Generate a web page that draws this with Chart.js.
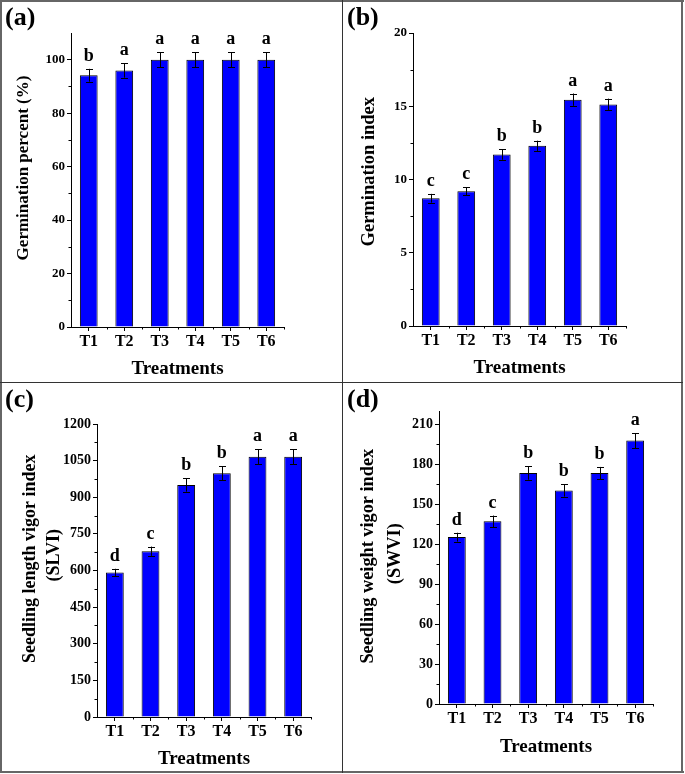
<!DOCTYPE html>
<html>
<head>
<meta charset="utf-8">
<script src="https://cdn.jsdelivr.net/npm/chart.js@4.4.1/dist/chart.umd.min.js"></script>
<style>
  html, body { margin: 0; padding: 0; background: #fff; }
  #page { position: relative; width: 685px; height: 774px; overflow: hidden; }
  .panel { position: absolute; }
  .panel canvas { position: absolute; left: 0; top: 0; }
  .tag { position: absolute; left: 5px; top: 2px; font: bold 26px "Liberation Serif", "Times New Roman", serif; color: #000; }
  .line { position: absolute; background: #666; }
</style>
</head>
<body>
<div id="page">
  <div class="panel" style="left:0;top:0;width:342px;height:382px"><canvas id="chart-a" width="342" height="382"></canvas><div class="tag">(a)</div></div>
  <div class="panel" style="left:342px;top:0;width:343px;height:382px"><canvas id="chart-b" width="343" height="382"></canvas><div class="tag">(b)</div></div>
  <div class="panel" style="left:0;top:382px;width:342px;height:392px"><canvas id="chart-c" width="342" height="392"></canvas><div class="tag">(c)</div></div>
  <div class="panel" style="left:342px;top:382px;width:343px;height:392px"><canvas id="chart-d" width="343" height="392"></canvas><div class="tag">(d)</div></div>

  <div class="line" style="left:0;top:0;width:684px;height:2px"></div>
  <div class="line" style="left:0;top:771px;width:684px;height:2px"></div>
  <div class="line" style="left:0;top:0;width:2px;height:773px"></div>
  <div class="line" style="left:681px;top:0;width:2px;height:773px"></div>
  <div class="line" style="left:342px;top:0;width:1px;height:773px;background:#333"></div>
  <div class="line" style="left:0;top:382px;width:683px;height:1px;background:#333"></div>
</div>

<script>
// Data
const treatments = ['T1', 'T2', 'T3', 'T4', 'T5', 'T6'];

const germPercent = [94.2, 96.0, 100, 100, 100, 100];
const germPercentErr = [2.4, 2.7, 2.8, 2.8, 2.8, 2.8];
const germPercentLetters = ['b', 'a', 'a', 'a', 'a', 'a'];

const germIndex = [8.72, 9.2, 11.7, 12.3, 15.45, 15.12];
const germIndexErr = [0.3, 0.28, 0.35, 0.35, 0.42, 0.4];
const germIndexLetters = ['c', 'c', 'b', 'b', 'a', 'a'];

const slvi = [592, 679, 950, 998, 1066, 1066];
const slviErr = [15, 19, 27, 29, 30, 30];
const slviLetters = ['d', 'c', 'b', 'b', 'a', 'a'];

const swvi = [125.3, 137.2, 173.4, 160.3, 173.4, 197.8];
const swviErr = [3.3, 4.3, 5.0, 4.6, 4.6, 5.6];
const swviLetters = ['d', 'c', 'b', 'b', 'b', 'a'];

const SERIF = "'Liberation Serif', 'Times New Roman', serif";

/**
 * Error bars, significance letters and minor ticks
 */
const extrasPlugin = {
    id: 'extras',
    afterDatasetsDraw(chart) {
        const ctx = chart.ctx;
        const ds = chart.data.datasets[0];
        const meta = chart.getDatasetMeta(0);
        const x = chart.scales.x;
        const y = chart.scales.y;
        ctx.save();
        ctx.strokeStyle = '#000';
        ctx.lineWidth = 1;
        ctx.fillStyle = '#000';
        ctx.font = 'bold 18px ' + SERIF;
        ctx.textAlign = 'center';
        ctx.textBaseline = 'alphabetic';
        meta.data.forEach((bar, i) => {
            const v = ds.data[i];
            const e = ds.errors[i];
            const top = y.getPixelForValue(v + e);
            const bot = y.getPixelForValue(v - e);
            const bx = Math.round(bar.x) + 0.5;
            ctx.beginPath();
            ctx.moveTo(bx, top);
            ctx.lineTo(bx, bot);
            ctx.moveTo(bx - 3.5, Math.round(top) + 0.5);
            ctx.lineTo(bx + 3.5, Math.round(top) + 0.5);
            ctx.moveTo(bx - 3.5, Math.round(bot) + 0.5);
            ctx.lineTo(bx + 3.5, Math.round(bot) + 0.5);
            ctx.stroke();
            ctx.fillText(ds.letters[i], bar.x, top - 8);
        });

        // minor ticks: halfway between y ticks, and at category edges on x
        const ticks = y.ticks;
        ctx.beginPath();
        for (let k = 0; k < ticks.length - 1; k++) {
            const py = Math.round(y.getPixelForValue((ticks[k].value + ticks[k + 1].value) / 2)) + 0.5;
            ctx.moveTo(y.right - 2.5, py);
            ctx.lineTo(y.right, py);
        }
        for (let k = 1; k <= treatments.length; k++) {
            const px = Math.round(x.getPixelForValue(k - 0.5)) + 0.5;
            ctx.moveTo(px, x.top);
            ctx.lineTo(px, x.top + 2.5);
        }
        ctx.stroke();
        ctx.restore();
    }
};

// Rotated y axis title, placed where the original puts it
const yTitlePlugin = {
    id: 'yTitle',
    afterDraw(chart, args, opts) {
        const ctx = chart.ctx;
        ctx.save();
        ctx.font = 'bold ' + opts.size + 'px ' + SERIF;
        ctx.fillStyle = '#000';
        ctx.textAlign = 'center';
        ctx.textBaseline = 'middle';
        opts.lines.forEach((line, i) => {
            ctx.save();
            ctx.translate(opts.x[i], opts.y[i]);
            ctx.rotate(-Math.PI / 2);
            ctx.fillText(line, 0, 0);
            ctx.restore();
        });
        ctx.restore();
    }
};

function makePanel(id, cfg) {
    const canvas = document.getElementById(id);
    const ctx = canvas.getContext('2d');
    const W = canvas.width, H = canvas.height;
    const xHeight = H - cfg.bottom;

    return new Chart(ctx, {
        type: 'bar',
        data: {
            labels: treatments,
            datasets: [{
                data: cfg.values,
                errors: cfg.errors,
                letters: cfg.letters,
                backgroundColor: '#0000FF',
                borderColor: '#000',
                borderWidth: 1,
                barPercentage: 0.5,
                categoryPercentage: 1
            }]
        },
        options: {
            responsive: false,
            animation: false,
            layout: {
                padding: { left: 0, top: cfg.top, right: W - cfg.right, bottom: 0 }
            },
            plugins: {
                legend: { display: false },
                tooltip: { enabled: false },
                yTitle: { lines: cfg.yTitle, x: cfg.yTitleX, y: cfg.yTitleY, size: cfg.yTitleSize }
            },
            scales: {
                x: {
                    afterFit: (s) => { s.height = xHeight; },
                    grid: { offset: false, drawOnChartArea: false, tickLength: 4, tickColor: '#000' },
                    border: { display: true, color: '#000', width: 1 },
                    ticks: { color: '#000', padding: 1, font: { family: SERIF, size: 16, weight: 'bold' } },
                    title: {
                        display: true,
                        text: 'Treatments',
                        color: '#000',
                        font: { family: SERIF, size: 19, weight: 'bold' },
                        padding: { top: 0, bottom: xHeight - 11.4 - cfg.xTitleOffset }
                    }
                },
                y: {
                    min: 0,
                    max: cfg.max,
                    afterFit: (s) => { s.width = cfg.left; },
                    grid: { drawOnChartArea: false, tickLength: 4, tickColor: '#000' },
                    border: { display: true, color: '#000', width: 1 },
                    ticks: {
                        stepSize: cfg.step,
                        includeBounds: false,
                        color: '#000',
                        padding: 2,
                        font: { family: SERIF, size: cfg.tickSize, weight: 'bold' },
                        callback: (v) => String(v)
                    },
                    title: { display: false }
                }
            }
        },
        plugins: [extrasPlugin, yTitlePlugin]
    });
}

makePanel('chart-a', {
    values: germPercent, errors: germPercentErr, letters: germPercentLetters,
    max: 110, step: 20, tickSize: 13,
    left: 71, right: 284, top: 33, bottom: 327, xTitleOffset: 42,
    yTitle: ['Germination percent (%)'], yTitleX: [24], yTitleY: [168], yTitleSize: 17
});

makePanel('chart-b', {
    values: germIndex, errors: germIndexErr, letters: germIndexLetters,
    max: 20, step: 5, tickSize: 13,
    left: 71, right: 284, top: 33, bottom: 326, xTitleOffset: 42,
    yTitle: ['Germination index'], yTitleX: [27.5], yTitleY: [171.7], yTitleSize: 18.5
});

makePanel('chart-c', {
    values: slvi, errors: slviErr, letters: slviLetters,
    max: 1200, step: 150, tickSize: 14,
    left: 97, right: 311, top: 42, bottom: 335, xTitleOffset: 42,
    yTitle: ['Seedling length vigor index', '(SLVI)'], yTitleX: [30, 54], yTitleY: [176.7, 173.3], yTitleSize: 18
});

makePanel('chart-d', {
    values: swvi, errors: swviErr, letters: swviLetters,
    max: 220, step: 30, tickSize: 14,
    left: 97, right: 311, top: 29, bottom: 322, xTitleOffset: 43,
    yTitle: ['Seedling weight vigor index', '(SWVI)'], yTitleX: [26.7, 53], yTitleY: [174.2, 171.7], yTitleSize: 18.3
});
</script>
</body>
</html>
